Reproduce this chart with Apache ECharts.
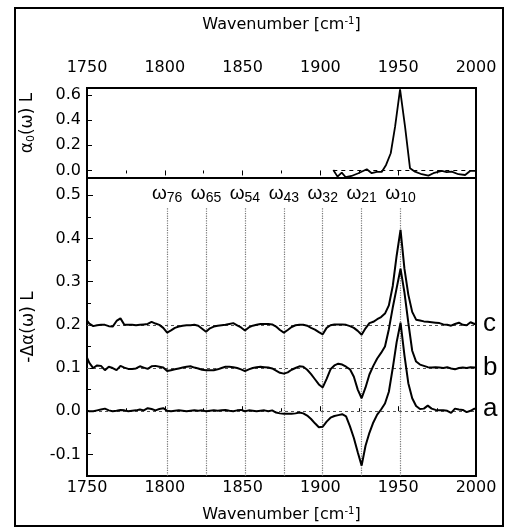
<!DOCTYPE html>
<html><head><meta charset="utf-8">
<script src="https://cdn.jsdelivr.net/npm/echarts@6/dist/echarts.min.js"></script>
<style>html,body{margin:0;padding:0;background:#fff}#c{width:506px;height:528px}</style>
</head><body><div id="c"></div>
<script>
// ---- data ----
const wavenumbers = [
  1750, 1751.5, 1754, 1756.5, 1759, 1761.5, 1764, 1766.5, 1769, 1771.5,
  1774, 1776.5, 1779, 1781.5, 1784, 1786.5, 1789, 1791.5, 1794, 1796.5,
  1799, 1801.5, 1804, 1806.5, 1809, 1811.5, 1814, 1816.5, 1819, 1821.5,
  1824, 1826.5, 1829, 1831.5, 1834, 1836.5, 1839, 1841.5, 1844, 1846.5,
  1849, 1851.5, 1854, 1856.5, 1859, 1861.5, 1864, 1866.5, 1869, 1871.5,
  1874, 1876.5, 1879, 1881.5, 1884, 1886.5, 1889, 1891.5, 1894, 1896.5,
  1899, 1901.5, 1904, 1906.5, 1909, 1911.5, 1914, 1916.5, 1919, 1921.5,
  1924, 1926.5, 1929, 1931.5, 1934, 1936.5, 1939, 1941.5, 1944, 1946.5,
  1949, 1951.5, 1954, 1956.5, 1959, 1961.5, 1964, 1966.5, 1969, 1971.5,
  1974, 1976.5, 1979, 1981.5, 1984, 1986.5, 1989, 1991.5, 1994, 1996.5,
  1999, 2000
];
const curveA = [
  0.001, 0.000, 0.000, 0.002, 0.004, 0.006, 0.002, 0.000, 0.001, 0.003,
  0.002, 0.000, 0.001, 0.002, 0.004, 0.002, 0.007, 0.005, 0.002, 0.005,
  0.007, 0.001, 0.000, 0.001, 0.002, 0.001, 0.000, 0.001, 0.002, 0.001,
  0.002, 0.000, 0.001, 0.002, 0.001, 0.002, 0.003, 0.001, 0.000, 0.002,
  0.003, 0.000, 0.002, 0.001, 0.000, 0.001, 0.002, 0.000, 0.002, -0.003,
  -0.005, -0.006, -0.006, -0.006, -0.005, -0.003, -0.005, -0.010, -0.018, -0.028,
  -0.037, -0.036, -0.024, -0.015, -0.011, -0.009, -0.007, -0.012, -0.035, -0.062,
  -0.095, -0.126, -0.080, -0.050, -0.026, -0.008, 0.004, 0.018, 0.045, 0.100,
  0.160, 0.205, 0.130, 0.065, 0.030, 0.012, 0.005, 0.006, 0.013, 0.006,
  0.003, 0.002, 0.002, 0.001, -0.004, 0.006, 0.004, 0.003, -0.002, 0.001,
  0.006, 0.005
];
const curveB = [
  0.124, 0.112, 0.100, 0.106, 0.105, 0.095, 0.103, 0.100, 0.095, 0.105,
  0.101, 0.098, 0.098, 0.099, 0.104, 0.101, 0.098, 0.104, 0.105, 0.103,
  0.101, 0.093, 0.095, 0.097, 0.099, 0.101, 0.103, 0.104, 0.101, 0.099,
  0.096, 0.095, 0.095, 0.095, 0.097, 0.100, 0.103, 0.103, 0.102, 0.100,
  0.097, 0.093, 0.097, 0.100, 0.102, 0.103, 0.102, 0.101, 0.099, 0.094,
  0.089, 0.087, 0.090, 0.096, 0.100, 0.104, 0.103, 0.096, 0.086, 0.074,
  0.062, 0.055, 0.075, 0.097, 0.106, 0.110, 0.108, 0.103, 0.097, 0.080,
  0.050, 0.030, 0.055, 0.085, 0.105, 0.122, 0.135, 0.150, 0.190, 0.240,
  0.285, 0.330, 0.275, 0.205, 0.140, 0.115, 0.108, 0.105, 0.102, 0.101,
  0.102, 0.101, 0.100, 0.102, 0.099, 0.097, 0.100, 0.101, 0.100, 0.102,
  0.101, 0.101
];
const curveC = [
  0.210, 0.203, 0.197, 0.199, 0.200, 0.200, 0.197, 0.196, 0.209, 0.215,
  0.200, 0.200, 0.200, 0.199, 0.200, 0.201, 0.202, 0.207, 0.203, 0.200,
  0.193, 0.182, 0.187, 0.193, 0.196, 0.198, 0.199, 0.199, 0.200, 0.198,
  0.191, 0.184, 0.192, 0.196, 0.198, 0.199, 0.200, 0.202, 0.204, 0.199,
  0.194, 0.187, 0.194, 0.198, 0.200, 0.202, 0.202, 0.202, 0.201, 0.196,
  0.188, 0.182, 0.188, 0.195, 0.199, 0.200, 0.200, 0.198, 0.193, 0.189,
  0.183, 0.178, 0.193, 0.199, 0.201, 0.201, 0.201, 0.200, 0.197, 0.193,
  0.186, 0.177, 0.192, 0.204, 0.207, 0.213, 0.218, 0.226, 0.245, 0.290,
  0.360, 0.420, 0.330, 0.270, 0.230, 0.212, 0.210, 0.208, 0.207, 0.206,
  0.205, 0.204, 0.201, 0.200, 0.198, 0.202, 0.205, 0.200, 0.199, 0.206,
  0.202, 0.203
];
const curveNames = ['a', 'b', 'c'];
const curveBaselines = [0, 0.1, 0.2];

const topWavenumbers = [1908.3, 1911, 1913.7, 1916.3, 1920, 1924.4, 1929.8, 1933, 1936.2, 1939.4,
  1942.2, 1945.2, 1948, 1951.2, 1954.4, 1957.6, 1960.8, 1965.1, 1969.4, 1972.6,
  1978, 1981.2, 1984.4, 1988.7, 1993, 1996.2, 1999.4, 2000];
const topValues = [0.004, -0.049, -0.017, -0.054, -0.044, -0.022, 0.010, -0.022, -0.012, -0.012,
  0.044, 0.137, 0.348, 0.645, 0.348, 0.017, -0.010, -0.030, -0.041, -0.022,
  -0.004, -0.014, -0.010, -0.030, -0.036, -0.004, -0.004, -0.004];

const transitionFreqs = [1801.5, 1826.5, 1851.5, 1876.5, 1901.5, 1926.5, 1951.5];
const transitionLabels = ['76', '65', '54', '43', '32', '21', '10'];

const xMin = 1750, xMax = 2000, xStep = 50;
const topYRange = [-0.06, 0.656];
const botYRange = [-0.15, 0.54];

// ---- chart ----
const AX_FONT = 'DejaVu Sans';
const TXT_FONT = 'Liberation Sans';
const fmt = v => (Math.abs(v) < 1e-9 ? 0 : v).toFixed(1);

function xAxisCfg(gridIndex, pos) {
  const top = pos === 'top';
  return {
    gridIndex, type: 'value', position: pos, min: xMin, max: xMax, interval: xStep,
    axisLine: { show: false },
    axisTick: { show: true, inside: true, length: 5, lineStyle: { color: '#000', width: 1 } },
    minorTick: { show: true, splitNumber: 2, length: 3, lineStyle: { color: '#000', width: 1 } },
    splitLine: { show: false },
    axisLabel: { margin: top ? 12 : 4, fontFamily: AX_FONT, fontSize: 16, color: '#000',
      formatter: v => String(Math.round(v)) },
    name: 'Wavenumber [cm{sup|-1}]',
    nameLocation: 'middle', nameGap: top ? 54 : 30,
    nameTextStyle: { fontFamily: AX_FONT, fontSize: 16, color: '#000',
      rich: { sup: { fontFamily: AX_FONT, fontSize: 10, color: '#000', verticalAlign: 'top', padding: [0, 0, 8, 0] } } }
  };
}

const option = {
  animation: false,
  backgroundColor: '#fff',
  graphic: [{ type: 'rect', shape: { x: 15, y: 8, width: 488, height: 518 },
    style: { fill: 'none', stroke: '#000', lineWidth: 2 }, z: 100 }],
  grid: [
    { left: 87, right: 30, top: 88, height: 90, show: true, borderColor: '#000', borderWidth: 2 },
    { left: 87, right: 30, top: 178, bottom: 51, show: true, borderColor: '#000', borderWidth: 2 }
  ],
  xAxis: [xAxisCfg(0, 'top'), xAxisCfg(1, 'bottom')],
  yAxis: [
    { gridIndex: 0, type: 'value', min: topYRange[0], max: topYRange[1], splitNumber: 3,
      axisLine: { show: false },
      axisTick: { show: true, inside: true, length: 5, lineStyle: { color: '#000' } },
      splitLine: { show: false },
      axisLabel: { showMinLabel: false, showMaxLabel: false, margin: 6, formatter: fmt,
        fontFamily: AX_FONT, fontSize: 16, color: '#000' },
      name: 'α{sub|0}(ω) L', nameLocation: 'middle', nameGap: 50,
      nameTextStyle: { fontFamily: AX_FONT, fontSize: 17, color: '#000', padding: [0, 0, 0, 20],
        rich: { sub: { fontFamily: AX_FONT, fontSize: 11, color: '#000', padding: [8, 0, 0, 0] } } } },
    { gridIndex: 1, type: 'value', min: botYRange[0], max: botYRange[1], splitNumber: 7,
      axisLine: { show: false },
      axisTick: { show: true, inside: true, length: 6, lineStyle: { color: '#000' } },
      minorTick: { show: true, splitNumber: 2, length: 4, lineStyle: { color: '#000' } },
      splitLine: { show: false },
      axisLabel: { showMinLabel: false, showMaxLabel: false, margin: 6, formatter: fmt,
        fontFamily: AX_FONT, fontSize: 16, color: '#000' },
      name: '-Δα(ω) L', nameLocation: 'middle', nameGap: 50,
      nameTextStyle: { fontFamily: AX_FONT, fontSize: 17, color: '#000' } }
  ],
  series: []
};

option.series.push({
  type: 'line', xAxisIndex: 0, yAxisIndex: 0, showSymbol: false, silent: true,
  data: topWavenumbers.map((w, i) => [w, topValues[i]]),
  lineStyle: { color: '#000', width: 1.8 },
  markLine: { silent: true, symbol: 'none', label: { show: false },
    lineStyle: { type: [4, 4], color: '#000', width: 1 },
    data: [[{ coord: [topWavenumbers[0], 0] }, { coord: [xMax, 0] }]] }
});

const curves = [curveA, curveB, curveC];
curves.forEach((vals, k) => {
  const mlData = [{ yAxis: curveBaselines[k] }];
  if (k === 0) {
    transitionFreqs.forEach((f, i) => {
      mlData.push([
        { coord: [f, 0.47], lineStyle: { type: 'dotted', color: '#777', width: 1.2 },
          label: { show: true, position: 'start', distance: 3, formatter: 'ω{s|' + transitionLabels[i] + '}',
            fontFamily: TXT_FONT, fontSize: 19, color: '#000',
            rich: { s: { fontFamily: TXT_FONT, fontSize: 14, color: '#000', padding: [9, 0, 0, 0] } } } },
        { coord: [f, botYRange[0]] }
      ]);
    });
  }
  option.series.push({
    type: 'line', xAxisIndex: 1, yAxisIndex: 1, showSymbol: false, silent: true, z: 5,
    data: wavenumbers.map((w, i) => [w, vals[i]]),
    lineStyle: { color: '#000', width: 2 },
    endLabel: { show: true, formatter: curveNames[k], distance: 7,
      fontFamily: TXT_FONT, fontSize: 26, color: '#000' },
    markLine: { silent: true, symbol: 'none', label: { show: false },
      lineStyle: { type: [3, 3], color: '#555', width: 1 },
      data: mlData }
  });
});

const chart = echarts.init(document.getElementById('c'), null, { renderer: 'canvas' });
chart.setOption(option);
</script>
</body></html>
